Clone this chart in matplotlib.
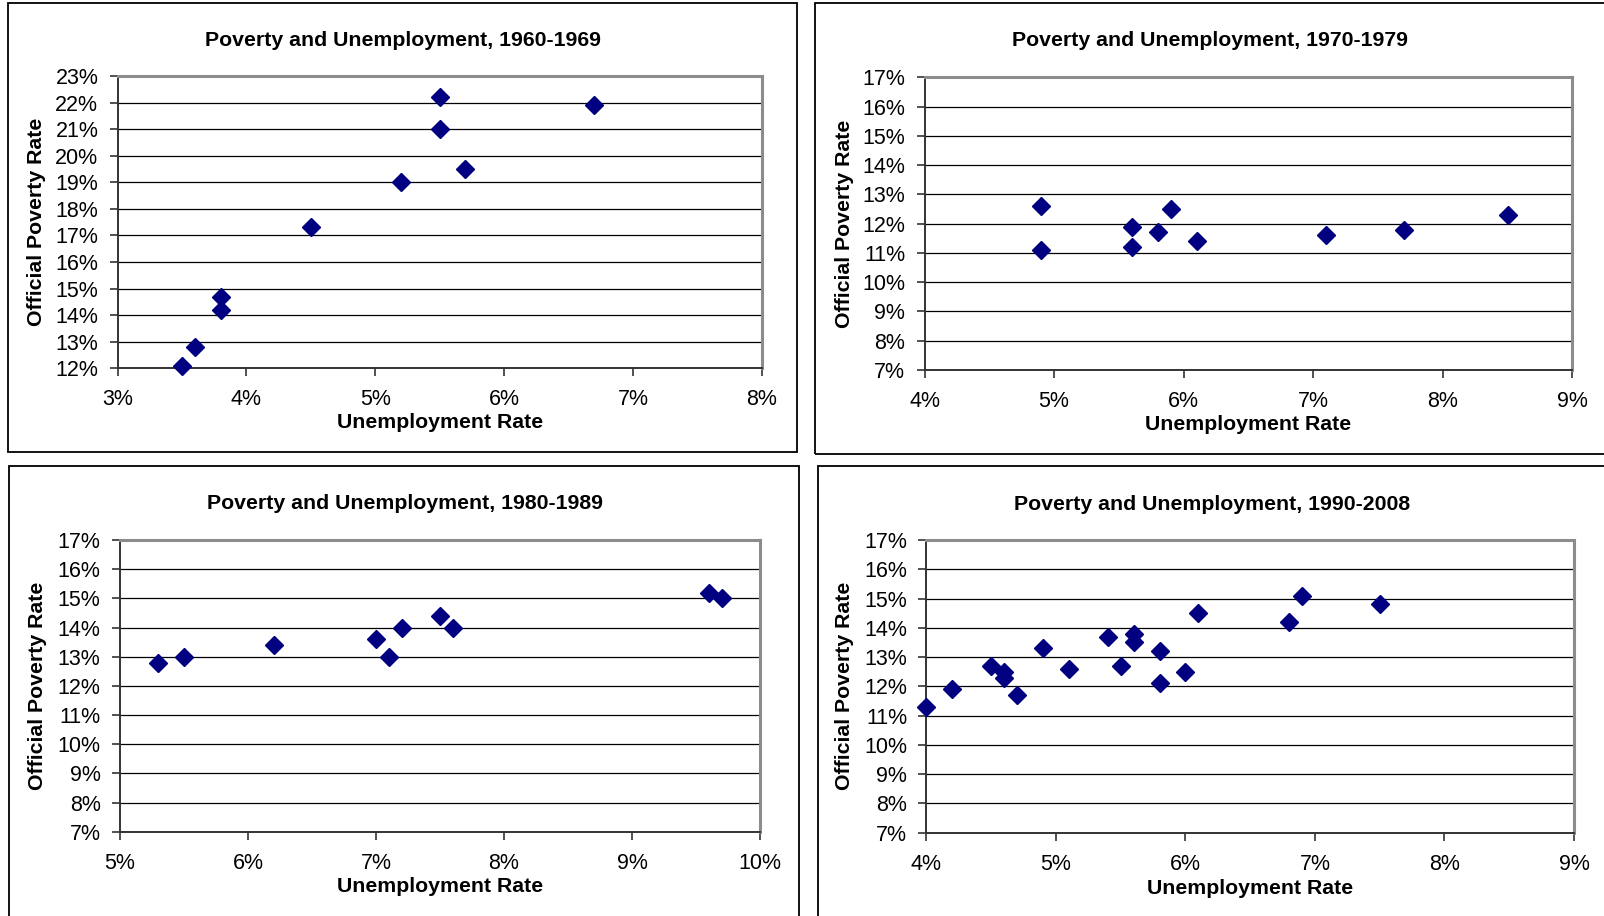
import matplotlib
matplotlib.use("Agg")
import matplotlib.pyplot as plt
from matplotlib.patches import Rectangle
from matplotlib.ticker import FuncFormatter, MultipleLocator

# unemployment rate (%) and official poverty rate (%), one pair of lists per decade
unemp_60s = [5.5, 6.7, 5.5, 5.7, 5.2, 4.5, 3.8, 3.8, 3.6, 3.5]
pov_60s = [22.2, 21.9, 21.0, 19.5, 19.0, 17.3, 14.7, 14.2, 12.8, 12.1]

unemp_70s = [4.9, 5.9, 5.6, 4.9, 5.6, 8.5, 7.7, 7.1, 6.1, 5.8]
pov_70s = [12.6, 12.5, 11.9, 11.1, 11.2, 12.3, 11.8, 11.6, 11.4, 11.7]

unemp_80s = [7.1, 7.6, 9.7, 9.6, 7.5, 7.2, 7.0, 6.2, 5.5, 5.3]
pov_80s = [13.0, 14.0, 15.0, 15.2, 14.4, 14.0, 13.6, 13.4, 13.0, 12.8]

unemp_90s = [5.6, 6.8, 7.5, 6.9, 6.1, 5.6, 5.4, 4.9, 4.5, 4.2,
             4.0, 4.7, 5.8, 6.0, 5.5, 5.1, 4.6, 4.6, 5.8]
pov_90s = [13.5, 14.2, 14.8, 15.1, 14.5, 13.8, 13.7, 13.3, 12.7, 11.9,
           11.3, 11.7, 12.1, 12.5, 12.7, 12.6, 12.3, 12.5, 13.2]

titles = ["Poverty and Unemployment, 1960-1969",
          "Poverty and Unemployment, 1970-1979",
          "Poverty and Unemployment, 1980-1989",
          "Poverty and Unemployment, 1990-2008"]
xlims = [(3, 8), (4, 9), (5, 10), (4, 9)]
ylims = [(12, 23), (7, 17), (7, 17), (7, 17)]

W, H = 1604, 916
plt.rcParams["font.family"] = ["Liberation Sans", "DejaVu Sans"]

fig = plt.figure(figsize=(W / 100, H / 100), dpi=100)


def px_box(x0, y0, x1, y1):
    # pixel box (top-left origin) -> figure fraction [l, b, w, h]
    return [x0 / W, 1 - y1 / H, (x1 - x0) / W, (y1 - y0) / H]


# (axes box in px, frame box in px, title xy, ylabel x, xlabel y)
layout = [
    ((117.7, 76.0, 761.7, 368.3), (8, 3, 796.5, 452), (403, 41), 37, 423),
    ((924.5, 77.3, 1572.3, 370.0), (815.5, 3, 1610, 454), (1210.5, 41), 844.6, 425),
    ((120.0, 540.0, 760.0, 831.7), (9, 466, 799, 920), (405, 503.5), 38, 886),
    ((926.5, 540.0, 1574.0, 832.7), (818, 466, 1610, 920), (1212.5, 504.5), 845, 888),
]

pct = FuncFormatter(lambda v, p: "%d%%" % round(v))
data = [(unemp_60s, pov_60s), (unemp_70s, pov_70s),
        (unemp_80s, pov_80s), (unemp_90s, pov_90s)]

for i, ((x, y), (abox, fbox, tpos, ylx, xly)) in enumerate(zip(data, layout)):
    fig.patches.append(Rectangle((fbox[0] / W, 1 - fbox[3] / H),
                                 (fbox[2] - fbox[0]) / W, (fbox[3] - fbox[1]) / H,
                                 transform=fig.transFigure, fill=False,
                                 edgecolor="black", lw=1.3))
    ax = fig.add_axes(px_box(*abox))
    ax.set_xlim(*xlims[i])
    ax.set_ylim(*ylims[i])
    ax.xaxis.set_major_locator(MultipleLocator(1))
    ax.yaxis.set_major_locator(MultipleLocator(1))
    ax.xaxis.set_major_formatter(pct)
    ax.yaxis.set_major_formatter(pct)
    ax.grid(axis="y", color="black", lw=0.9, zorder=1)
    ax.set_axisbelow(True)
    for s in ["top", "right"]:
        ax.spines[s].set_color("#8c8c8c")
        ax.spines[s].set_linewidth(2.2)
    for s in ["left", "bottom"]:
        ax.spines[s].set_color("#333333")
        ax.spines[s].set_linewidth(1.4)
    ax.tick_params(direction="out", length=6, width=1.2, color="#333333",
                   labelsize=15.5, pad=8)
    ax.tick_params(axis="x", pad=9)
    ax.plot(x, y, linestyle="none", marker="D", markersize=9.4,
            color="#000080", clip_on=False, zorder=5)

    fig.text(tpos[0] / W, 1 - tpos[1] / H, titles[i], ha="center", va="center",
             fontsize=15.3, fontweight="bold")
    cx = (abox[0] + abox[2]) / 2
    cy = (abox[1] + abox[3]) / 2
    fig.text(cx / W, 1 - xly / H, "Unemployment Rate", ha="center", va="center",
             fontsize=15.3, fontweight="bold")
    fig.text(ylx / W, 1 - cy / H, "Official Poverty Rate", ha="center", va="center",
             rotation=90, fontsize=15.3, fontweight="bold")

fig.savefig("out.png", dpi=100)
